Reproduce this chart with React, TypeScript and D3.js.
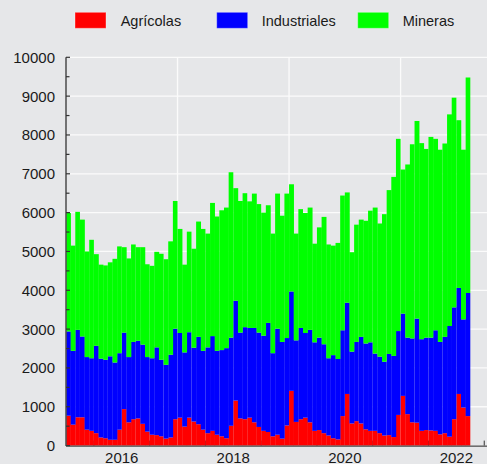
import React from "react";
import * as d3 from "d3";

const seriesNames = ["Agrícolas", "Industriales", "Mineras"];
const seriesColors = ["#ff0000", "#0000ff", "#00ff00"];
const startYear = 2015;
const xTickYears = [2016, 2018, 2020, 2022];
const xGridYears = [2017, 2019, 2021];
const yTicks = [0, 1000, 2000, 3000, 4000, 5000, 6000, 7000, 8000, 9000, 10000];

// monthly values, Jan 2015 .. Mar 2022
const agricolas = [
  770, 540, 730, 730, 410, 380, 320, 210, 190, 150, 150, 410,
  940, 600, 680, 700, 560, 360, 280, 270, 240, 180, 210, 680,
  720, 490, 720, 620, 550, 410, 320, 380, 280, 240, 190, 510,
  1160, 700, 680, 720, 600, 480, 380, 350, 240, 280, 180, 520,
  1410, 610, 680, 720, 600, 380, 400, 320, 260, 190, 160, 760,
  1330, 570, 630, 570, 420, 380, 380, 320, 260, 270, 220, 790,
  1280, 810, 600, 590, 380, 400, 390, 380, 290, 320, 230, 680,
  1330, 980, 760,
];
const industriales = [
  2170, 1900, 2250, 2080, 1870, 1870, 2250, 2030, 2020, 2150, 1990, 1970,
  1970, 1680, 1990, 2000, 2040, 1920, 1970, 2260, 1970, 1900, 2130, 2330,
  2180, 1910, 2200, 1900, 2250, 2030, 2210, 2440, 2160, 2220, 2320, 2270,
  2570, 2210, 2370, 2310, 2430, 2430, 2450, 2810, 2140, 2730, 2490, 2250,
  2560, 2100, 2350, 2180, 2380, 2280, 2380, 2290, 1990, 2140, 2070, 2210,
  2350, 1850, 2040, 2230, 2210, 2280, 1990, 1970, 1900, 2090, 2090, 2160,
  2120, 1970, 2160, 2680, 2360, 2380, 2390, 2590, 2380, 2480, 2850, 2880,
  2730, 2270, 3170,
];
const mineras = [
  3050, 2710, 3040, 3010, 2720, 3050, 2360, 2420, 2430, 2420, 2670, 2750,
  2200, 2540, 2510, 2410, 2510, 2390, 2380, 2460, 2730, 2720, 2920, 3290,
  2680, 2260, 2590, 2550, 2970, 3140, 2930, 3430, 3460, 3600, 3620, 4260,
  2900, 3390, 3450, 3260, 3460, 3310, 3170, 3030, 3080, 3480, 3250, 3720,
  2760, 2750, 3060, 3090, 3150, 2540, 2840, 3280, 2930, 2820, 2990, 3470,
  2840, 2560, 3020, 3020, 3160, 3390, 3760, 3430, 3800, 4220, 4610, 4950,
  3710, 4460, 5000, 5090, 5050, 4860, 5170, 4930, 4950, 4980, 5450, 5400,
  4320, 4370, 5550,
];

const W = 487;
const H = 464;
const left = 66;
const barsRight = 470.3;
const plotRight = 487;
const top = 57.3;
const bottom = 445.6;
const font = "'Liberation Sans', Arial, Helvetica, sans-serif";

export default function App() {
  const n = agricolas.length;
  const rows = agricolas.map((a, i) => ({ i, a, b: industriales[i], c: mineras[i] }));
  const stack = d3.stack<any>().keys(["a", "b", "c"]);
  const layers = stack(rows);

  const x = d3.scaleLinear().domain([0, n]).range([left, barsRight]);
  const y = d3.scaleLinear().domain([0, 10000]).range([bottom, top]);
  const monthOf = (yr: number) => (yr - startYear) * 12;
  const minorY = d3.range(0, 10001, 500);
  const xHalfTicks = d3.range(6, 91, 12);

  const legendItems = [
    { rx: 75, tx: 120.7 },
    { rx: 216.7, tx: 261.7 },
    { rx: 357.7, tx: 402.7 },
  ];

  return (
    <svg
      width={W}
      height={H}
      style={{ position: "absolute", left: 0, top: 0, display: "block" }}
      fontFamily={font}
    >
      <rect x={0} y={0} width={W} height={H} fill="#e6e7e9" />
      {/* grid */}
      {yTicks.map((t) => (
        <line key={"gy" + t} x1={left} x2={plotRight} y1={y(t)} y2={y(t)} stroke="#fbfbfb" strokeWidth={1.3} />
      ))}
      {xGridYears.map((yr) => (
        <line key={"gx" + yr} x1={x(monthOf(yr))} x2={x(monthOf(yr))} y1={top} y2={bottom} stroke="#fbfbfb" strokeWidth={1.3} />
      ))}
      {/* x ticks (under bars) */}
      {xHalfTicks.map((m) => (
        <line key={"xt" + m} x1={x(m)} x2={x(m)} y1={bottom} y2={bottom - 5} stroke="#333" strokeWidth={1} />
      ))}
      {/* bars */}
      {layers.map((layer, k) => (
        <g key={"l" + k} fill={seriesColors[k]}>
          {layer.map((d, i) => (
            <rect
              key={i}
              x={x(i)}
              width={x(i + 1) - x(i) + (i % 3 === 2 ? 0 : 0.25)}
              y={y(d[1])}
              height={y(d[0]) - y(d[1])}
            />
          ))}
        </g>
      ))}
      {/* y axis */}
      <line x1={left} x2={left} y1={top} y2={bottom + 0.5} stroke="#555" strokeWidth={1.6} />
      {minorY.map((t) => (
        <line key={"yt" + t} x1={left} x2={left + (t % 1000 === 0 ? 4 : 3.5)} y1={y(t)} y2={y(t)} stroke="#333" strokeWidth={1.2} />
      ))}
      {yTicks.map((t) => (
        <text key={"yl" + t} x={55} y={y(t)} dy="0.36em" textAnchor="end" fontSize={15} fill="#1a1a1a">
          {t}
        </text>
      ))}
      {/* x axis */}
      <line x1={left} x2={plotRight} y1={bottom + 0.5} y2={bottom + 0.5} stroke="#444" strokeWidth={1.3} />
      {xTickYears.map((yr) => (
        <text key={"xl" + yr} x={x(monthOf(yr))} y={462.5} textAnchor="middle" fontSize={15} fill="#1a1a1a">
          {yr}
        </text>
      ))}
      {/* legend */}
      {seriesNames.map((name, k) => (
        <g key={"lg" + k}>
          <rect
            x={legendItems[k].rx}
            y={12.3}
            width={31}
            height={16}
            fill={seriesColors[k]}
            stroke="rgba(255,255,255,0.35)"
            strokeWidth={1}
          />
          <text x={legendItems[k].tx} y={26} fontSize={14.5} fill="#1a1a1a">
            {name}
          </text>
        </g>
      ))}
    </svg>
  );
}
